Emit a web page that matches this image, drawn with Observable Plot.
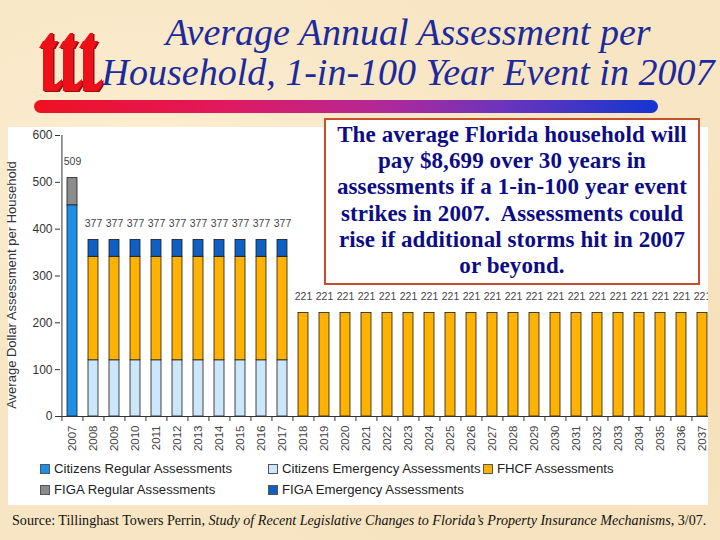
<!DOCTYPE html>
<html>
<head>
<meta charset="utf-8">
<script src="https://cdn.jsdelivr.net/npm/d3@7"></script>
<script src="https://cdn.jsdelivr.net/npm/@observablehq/plot@0.6"></script>
<style>
  html, body { margin: 0; padding: 0; }
  body {
    width: 720px; height: 540px; overflow: hidden; position: relative;
    background: #f8e5c3;
    background-image:
      radial-gradient(ellipse at 20% 30%, rgba(255,245,220,0.55), rgba(255,245,220,0) 45%),
      radial-gradient(ellipse at 80% 70%, rgba(240,215,170,0.45), rgba(240,215,170,0) 50%);
    font-family: "Liberation Sans", Arial, sans-serif;
  }
  #logo { position: absolute; left: 0; top: 0; }
  #title {
    position: absolute; left: 100px; top: 12px; width: 616px;
    text-align: center; font-family: "Liberation Serif", "Times New Roman", serif;
    font-style: italic; font-size: 38px; line-height: 40px; color: #1b2a9e;
    white-space: nowrap;
  }
  #rule {
    position: absolute; left: 34px; top: 100px; width: 624px; height: 13px;
    border-radius: 7px;
    background: linear-gradient(to right, #ee1122 0%, #e2185e 30%, #b42896 55%, #6c34bc 75%, #1436d0 100%);
  }
  #panel {
    position: absolute; left: 8px; top: 127px; width: 700px; height: 378px;
    background: #ffffff; overflow: hidden;
  }
  #chart { position: absolute; left: 0; top: 0; }
  #ylabel {
    position: absolute; left: 11px; top: 285px; transform: translate(-50%, -50%) rotate(-90deg);
    font-size: 13px; color: #333; white-space: nowrap;
  }
  #legend {
    position: absolute; left: 32px; top: 333px;
    display: grid; grid-template-columns: 228px 215px auto; row-gap: 4px;
    font-size: 13.2px; color: #222;
  }
  .item { display: flex; align-items: center; height: 17px; white-space: nowrap; }
  .sw { width: 8px; height: 8px; border: 1px solid #555; margin-right: 4px; }
  #note {
    position: absolute; left: 324px; top: 118px; width: 372px; height: 161px;
    border: 2px solid #c4502c; background: #ffffff;
    text-align: center; font-family: "Liberation Serif", "Times New Roman", serif;
    font-weight: bold; font-size: 23px; line-height: 26.2px; color: #0c0c86;
    letter-spacing: 0.1px; white-space: nowrap;
    padding-top: 2px; box-sizing: content-box;
  }
  #source {
    position: absolute; left: 12px; top: 512px;
    font-family: "Liberation Serif", "Times New Roman", serif; font-size: 14.1px; color: #111;
    white-space: nowrap;
  }
</style>
</head>
<body>
<svg id="logo" width="110" height="100"></svg>
<div id="title">Average Annual Assessment per<br>Household, 1-in-100 Year Event in 2007</div>
<div id="rule"></div>
<div id="panel">
  <div id="chart"></div>
  <div id="legend"></div>
</div>
<div id="ylabel">Average Dollar Assessment per Household</div>
<div id="note">The average Florida household will<br>pay $8,699 over 30 years in<br>assessments if a 1-in-100 year event<br>strikes in 2007.&nbsp; Assessments could<br>rise if additional storms hit in 2007<br>or beyond.</div>
<div id="source">Source: Tillinghast Towers Perrin, <i>Study of Recent Legislative Changes to Florida’s Property Insurance Mechanisms</i>, 3/07.</div>

<script>
// ---------- data ----------
const years = ["2007","2008","2009","2010","2011","2012","2013","2014","2015","2016","2017",
  "2018","2019","2020","2021","2022","2023","2024","2025","2026","2027",
  "2028","2029","2030","2031","2032","2033","2034","2035","2036","2037"];

const seriesNames = [
  "Citizens Regular Assessments",
  "Citizens Emergency Assessments",
  "FHCF Assessments",
  "FIGA Regular Assessments",
  "FIGA Emergency Assessments"
];
const seriesColors = ["#1e8fe6", "#cbe7f9", "#ffb300", "#8c8c8c", "#1060c4"];

const citizensRegular   = [451, 0,0,0,0,0,0,0,0,0,0, 0,0,0,0,0,0,0,0,0,0, 0,0,0,0,0,0,0,0,0,0];
const citizensEmergency = [0, 120,120,120,120,120,120,120,120,120,120, 0,0,0,0,0,0,0,0,0,0, 0,0,0,0,0,0,0,0,0,0];
const fhcf              = [0, 221,221,221,221,221,221,221,221,221,221, 221,221,221,221,221,221,221,221,221,221, 221,221,221,221,221,221,221,221,221,221];
const figaRegular       = [58, 0,0,0,0,0,0,0,0,0,0, 0,0,0,0,0,0,0,0,0,0, 0,0,0,0,0,0,0,0,0,0];
const figaEmergency     = [0, 36,36,36,36,36,36,36,36,36,36, 0,0,0,0,0,0,0,0,0,0, 0,0,0,0,0,0,0,0,0,0];
const totalLabels       = [509, 377,377,377,377,377,377,377,377,377,377, 221,221,221,221,221,221,221,221,221,221, 221,221,221,221,221,221,221,221,221,221];

const yTicks = [0, 100, 200, 300, 400, 500, 600];

// ---------- logo (decoration) ----------
(function drawLogo() {
  const svg = d3.select("#logo");
  const letter = ox => [
    [ox, 91], [ox, 48], [ox - 4, 48], [ox, 41], [ox + 1, 41], [ox + 7, 33], [ox + 10, 33],
    [ox + 10, 41], [ox + 15, 41], [ox + 11, 48], [ox + 10, 48], [ox + 10, 84],
    [ox + 13, 84], [ox + 19, 79], [ox + 19, 85], [ox + 15, 91]
  ];
  [43, 63, 83].forEach(ox => {
    svg.append("polygon").attr("points", letter(ox).map(p => [p[0] + 1.5, p[1] + 1].join(",")).join(" "))
      .attr("fill", "#9a0c12");
    svg.append("polygon").attr("points", letter(ox).map(p => p.join(",")).join(" "))
      .attr("fill", "#ee1018");
  });
})();

// ---------- build tables ----------
const seriesValues = [citizensRegular, citizensEmergency, fhcf, figaRegular, figaEmergency];
const rows = [];
seriesNames.forEach((s, k) => {
  seriesValues[k].forEach((v, i) => { if (v > 0) rows.push({year: years[i], series: s, value: v}); });
});
const totals = years.map((y, i) => ({year: y, total: totalLabels[i]}));

const rangeX = [52, 706];
const step = (rangeX[1] - rangeX[0]) / years.length;

const chart = Plot.plot({
  width: 700, height: 329,
  marginLeft: 52, marginRight: 0, marginTop: 8, marginBottom: 40,
  style: {background: "transparent", fontFamily: "Liberation Sans, Arial, sans-serif", color: "#333", overflow: "hidden"},
  x: {type: "band", domain: years, range: rangeX, paddingInner: 0.53, paddingOuter: 0.265, axis: null},
  y: {domain: [0, 600], axis: null},
  color: {domain: seriesNames, range: seriesColors},
  marks: [
    Plot.barY(rows, {x: "year", y: "value", fill: "series", z: "series", order: seriesNames,
      stroke: "#1a1a1a", strokeWidth: 0.8}),
    Plot.text(totals, {x: "year", y: "total", text: d => String(d.total), dy: -16,
      fontSize: 10.5, fill: "#444", fontFamily: "Liberation Sans Narrow, Liberation Sans, Arial, sans-serif"}),
    Plot.ruleY([0], {stroke: "#333"}),
    Plot.ruleX([years[0]], {dx: -step / 2, stroke: "#333"}),
    Plot.axisY({ticks: yTicks, tickSize: 5, tickPadding: 3, label: null, fontSize: 12}),
    Plot.axisX({ticks: years, tickSize: 0, tickRotate: -90, tickPadding: 9, label: null, fontSize: 11.5, fill: "#444"}),
    Plot.axisX({ticks: years, tickSize: 5, tickFormat: () => "", dx: -step / 2, label: null})
  ]
});
document.getElementById("chart").appendChild(chart);

// ---------- legend ----------
const legend = document.getElementById("legend");
seriesNames.forEach((name, k) => {
  const item = document.createElement("div");
  item.className = "item";
  const sw = document.createElement("span");
  sw.className = "sw";
  sw.style.background = seriesColors[k];
  const label = document.createElement("span");
  label.textContent = name;
  item.appendChild(sw); item.appendChild(label);
  legend.appendChild(item);
});
</script>
</body>
</html>
